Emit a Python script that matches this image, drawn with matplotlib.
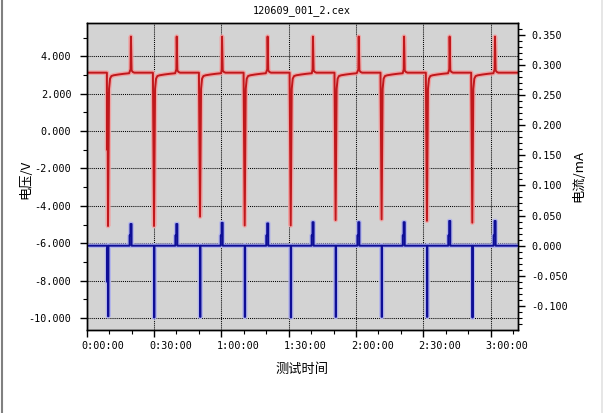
import matplotlib
matplotlib.use("Agg")
import matplotlib.pyplot as plt
import matplotlib.patheffects as pe
import matplotlib.transforms as mtransforms
from matplotlib.lines import Line2D
from matplotlib.ticker import MultipleLocator, FuncFormatter

title = "120609_001_2.cex"
x_label = "测试时间"
y_left_label = "电压/V"
y_right_label = "电流/mA"

# event times (minutes)
drop_t = [9.5, 30.0, 50.5, 70.4, 90.9, 110.9, 131.4, 151.6, 171.8]
spike_t = [19.7, 40.1, 60.3, 80.6, 100.8, 121.2, 141.4, 161.7, 181.9]
end_t = 192.3

# voltage (V)
base_v = 3.12
drop_v = [-5.08, -5.08, -4.58, -5.05, -5.05, -4.76, -4.72, -4.80, -4.90]
spike_v = [5.05, 5.05, 5.05, 5.05, 5.05, 5.05, 5.05, 5.05, 5.05]
recov_dt = [0.45, 0.9, 1.5, 2.5, 4.5, 7.0, 9.4]
recov_v = [2.25, 2.80, 2.94, 2.98, 3.02, 3.06, 3.09]
relax_dt = [0.3, 0.8, 1.5]
relax_v = [3.24, 3.16, 3.12]
first_pre_v = -1.0

# current (mA)
drop_i = [-0.117, -0.119, -0.118, -0.118, -0.119, -0.118, -0.118, -0.118, -0.119]
pulse_i = [0.036, 0.036, 0.038, 0.037, 0.039, 0.039, 0.039, 0.041, 0.041]
pulse_step_i = 0.017
first_pre_i = -0.06

# build voltage trace
vt, vv = [0.0], [base_v]
for k in range(len(drop_t)):
    td, ts = drop_t[k], spike_t[k]
    vt.append(td - 0.5); vv.append(base_v)
    if k == 0:
        vt += [td - 0.4, td - 0.2]; vv += [first_pre_v, 2.0]
    vt.append(td); vv.append(drop_v[k])
    for dt, v in zip(recov_dt, recov_v):
        vt.append(td + dt); vv.append(v)
    vt += [ts - 0.15, ts]; vv += [3.3, spike_v[k]]
    for dt, v in zip(relax_dt, relax_v):
        vt.append(ts + dt); vv.append(v)
vt.append(end_t); vv.append(base_v)

# build current trace
it, iv = [0.0], [0.0]
for k in range(len(drop_t)):
    td, ts = drop_t[k], spike_t[k]
    if k == 0:
        it += [td - 0.4, td - 0.4, td - 0.2]; iv += [0.0, first_pre_i, -0.01]
    it += [td, td, td + 0.2, td + 0.2]; iv += [0.0, drop_i[k], drop_i[k], 0.0]
    it += [ts - 0.6, ts - 0.6, ts - 0.2, ts - 0.2, ts + 0.3, ts + 0.3]
    iv += [0.0, pulse_step_i, pulse_step_i, pulse_i[k], pulse_i[k], 0.0]
it.append(end_t); iv.append(0.0)

plt.rcParams['font.family'] = ['DejaVu Sans Mono']
fig = plt.figure(figsize=(6.04, 4.13), dpi=100)
ax = fig.add_axes([86.7 / 604, 1 - 330 / 413, 431.6 / 604, 306.7 / 413])
ax.set_facecolor('#d3d3d3')
ax2 = ax.twinx()

ax.plot(vt, vv, color='#c0181c', lw=1.4,
        path_effects=[pe.Stroke(linewidth=3.3, foreground='#eea4a4'), pe.Normal()])
ax2.plot(it, iv, color='#0e0e96', lw=1.4,
         path_effects=[pe.Stroke(linewidth=3.3, foreground='#b2b4ea'), pe.Normal()])

ax.set_xlim(0, end_t)
ax.set_ylim(-10.64, 5.76)
ax2.set_ylim(-0.1398, 0.3688)

ax.set_xticks(list(range(0, 181, 30)))
ax.xaxis.set_minor_locator(MultipleLocator(10))
ax.set_yticks(list(range(-10, 5, 2)))
ax.yaxis.set_minor_locator(MultipleLocator(1))
ax2.yaxis.set_major_locator(MultipleLocator(0.05))
ax2.yaxis.set_minor_locator(MultipleLocator(0.01))

ax.xaxis.set_major_formatter(FuncFormatter(lambda m, p: "%d:%02d:00" % (int(m // 60), int(m % 60))))
ax.yaxis.set_major_formatter(FuncFormatter(lambda v, p: "%.3f" % v))
ax2.yaxis.set_major_formatter(FuncFormatter(lambda v, p: "%.3f" % (0 if abs(v) < 1e-9 else v)))

for a in (ax, ax2):
    a.tick_params(which='major', length=5, width=1, direction='out', labelsize=7.3, colors='black')
    a.tick_params(which='minor', length=3, width=0.8, direction='out')
    for s in a.spines.values():
        s.set_linewidth(1)
ax.tick_params(axis='y', pad=6)
ax.tick_params(axis='x', pad=3)
ax2.tick_params(axis='y', pad=4.5)

offset = mtransforms.ScaledTranslation(-5 / 100, 0, fig.dpi_scale_trans)
for label in ax.xaxis.get_majorticklabels():
    label.set_ha('left')
    label.set_transform(label.get_transform() + offset)

ax.grid(True, which='major', color='black', linestyle=(0, (1, 1)), linewidth=0.75)
ax.set_axisbelow(True)

cjk = ['Noto Sans CJK SC', 'DejaVu Sans']
fig.text(301.5 / 604, 1 - 11 / 413, title, ha='center', va='center', fontsize=7.3)
fig.text(302 / 604, 1 - 369 / 413, x_label, ha='center', va='center', fontsize=9.5, family=cjk)
fig.text(26 / 604, 1 - 179 / 413, y_left_label, ha='center', va='center', rotation=90, fontsize=9.5, family=cjk)
fig.text(579 / 604, 1 - 176 / 413, y_right_label, ha='center', va='center', rotation=90, fontsize=9.5, family=cjk)

fig.add_artist(Line2D([1.5 / 604, 1.5 / 604], [0, 1], transform=fig.transFigure, color='#808080', lw=1.5))
fig.add_artist(Line2D([601.5 / 604, 601.5 / 604], [0, 1], transform=fig.transFigure, color='#e2e2e2', lw=1.2))

fig.savefig("out.png", dpi=100)
